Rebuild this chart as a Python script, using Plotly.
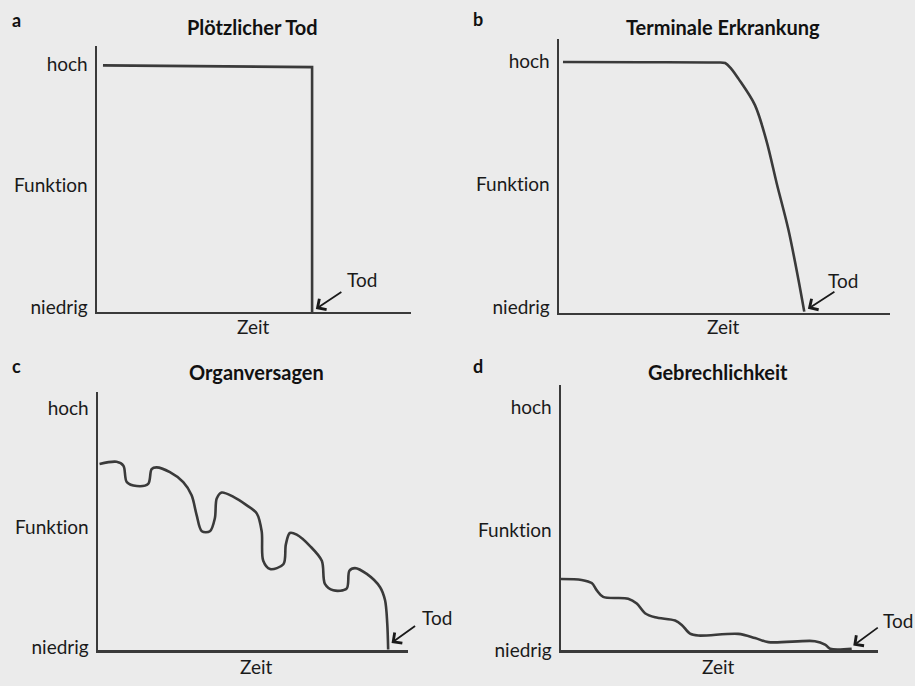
import plotly.graph_objects as go

W, H = 915, 686
BG = "#ebebeb"
INK = "#3a3a3a"
FONT = "Lato"

# ---------------- data ----------------
panel_letters = ["a", "b", "c", "d"]
panel_titles = ["Plötzlicher Tod", "Terminale Erkrankung", "Organversagen", "Gebrechlichkeit"]
y_tick_labels = ["niedrig", "Funktion", "hoch"]
x_axis_label = "Zeit"
death_label = "Tod"

# tick positions of the function labels (0 = niedrig, 100 = hoch)
y_tick_vals = [[1.8, 51.2, 100], [2.3, 51.2, 100], [1.2, 50.8, 100], [0.0, 49.4, 100]]

# a: Plötzlicher Tod
a_time = [1.9, 68.5, 68.5]
a_func = [99.4, 98.7, 0.0]

# b: Terminale Erkrankung
b_time = [1.2, 25.0, 47.0, 50.2, 52.0, 54.2, 59.2, 62.7, 65.8, 69.3, 72.3, 74.1]
b_func = [99.6, 99.5, 99.4, 99.2, 97.0, 93.0, 82.5, 68.2, 51.3, 33.1, 13.5, 0.5]

# c: Organversagen
c_time = [0.5, 6.0, 8.2, 9.3, 12.5, 16.2, 17.3, 18.9, 23.2, 27.5, 30.2, 31.8, 33.5,
          36.1, 37.7, 38.3, 39.9, 43.7, 47.9, 51.2, 52.8, 53.3, 55.5, 59.8, 60.6,
          61.9, 64.1, 68.4, 72.2, 73.2, 75.9, 80.2, 81.1, 82.9, 86.7, 91.0, 92.6,
          93.3, 93.6]
c_func = [77.0, 77.9, 76.3, 69.5, 67.9, 68.8, 74.9, 75.6, 73.6, 69.5, 64.1, 56.0, 49.2,
          49.2, 54.6, 62.7, 65.2, 63.4, 60.0, 56.6, 49.2, 37.0, 33.6, 35.6, 43.8,
          48.5, 47.8, 43.1, 37.0, 27.5, 24.8, 25.5, 32.9, 34.0, 31.6, 26.1, 20.7,
          11.3, 0.4]

# d: Gebrechlichkeit
d_time = [0.0, 6.5, 9.7, 11.3, 13.3, 21.2, 23.9, 26.5, 29.7, 36.0, 38.1, 40.7, 43.3,
          55.9, 61.2, 65.4, 80.1, 83.3, 84.9, 91.7]
d_func = [29.4, 29.0, 27.7, 24.7, 22.0, 21.3, 19.3, 15.3, 13.6, 12.3, 10.5, 6.9, 6.1,
          6.8, 5.1, 3.4, 3.8, 2.4, 0.7, 0.7]

# point of death (arrow target)
death_time = [69.7, 75.2, 94.7, 92.2]
death_func = [1.2, 1.6, 3.1, 2.0]

curves_time = [a_time, b_time, c_time, d_time]
curves_func = [a_func, b_func, c_func, d_func]
curve_shapes = ["linear", "spline", "spline", "spline"]

# ---------------- layout (pixel geometry) ----------------
dom_px = [  # x0, x1, y_top, y_bottom
    (97, 411, 47, 317),
    (559, 890, 40, 318),
    (98, 408, 398, 661),
    (561, 878, 391, 661),
]
y_top_val = [107.1, 108.6, 106.9, 109.3]
title_px = [(252, 27), (723, 27), (256, 378), (718, 378)]
letter_px = [(16, 20), (478, 19), (16, 372), (478, 372)]
zeit_px = [(253, 332), (723, 332), (256, 677), (718, 677)]
tod_shift = [(46, 29), (35, 28), (45, 25), (45, 25)]
arrow_off = [(27, -18), (28, -18), (25, -18), (26, -19)]


def px(x):
    return x / W


def py(y):
    return 1 - y / H


fig = go.Figure()
annotations = []
layout = dict(
    width=W, height=H,
    margin=dict(l=0, r=0, t=0, b=0),
    paper_bgcolor=BG, plot_bgcolor=BG,
    showlegend=False,
    font=dict(family=FONT, size=19, color="#1a1a1a"),
)

for i in range(4):
    n = "" if i == 0 else str(i + 1)
    xa, ya = "x" + n, "y" + n
    x0, x1, yt, yb = dom_px[i]
    layout["xaxis" + n] = dict(
        domain=[px(x0), px(x1)], range=[0, 100], anchor=ya,
        showline=True, linecolor=INK, linewidth=2.5,
        showgrid=False, zeroline=False, showticklabels=False, ticks="",
        fixedrange=True,
    )
    layout["yaxis" + n] = dict(
        domain=[py(yb), py(yt)], range=[0, y_top_val[i]], anchor=xa,
        showline=True, linecolor=INK, linewidth=2.5,
        showgrid=False, zeroline=False, ticks="",
        tickvals=y_tick_vals[i], ticktext=y_tick_labels,
        tickfont=dict(family=FONT, size=19, color="#1a1a1a"),
        ticklabelstandoff=3,
        fixedrange=True,
    )
    fig.add_trace(go.Scatter(
        x=curves_time[i], y=curves_func[i], mode="lines",
        line=dict(color=INK, width=2.6, shape=curve_shapes[i], smoothing=0.9),
        xaxis=xa, yaxis=ya, hoverinfo="skip",
    ))
    # title
    annotations.append(dict(
        text="<b>" + panel_titles[i] + "</b>", xref="paper", yref="paper",
        x=px(title_px[i][0]), y=py(title_px[i][1]), xanchor="center", yanchor="middle",
        showarrow=False, font=dict(family=FONT, size=20, color="#111111"),
    ))
    # panel letter
    annotations.append(dict(
        text="<b>" + panel_letters[i] + "</b>", xref="paper", yref="paper",
        x=px(letter_px[i][0]), y=py(letter_px[i][1]), xanchor="center", yanchor="middle",
        showarrow=False, font=dict(family=FONT, size=18, color="#111111"),
    ))
    # x-axis label
    annotations.append(dict(
        text=x_axis_label, xref="paper", yref="paper",
        x=px(zeit_px[i][0]), y=py(zeit_px[i][1]), xanchor="center", yanchor="middle",
        showarrow=False, font=dict(family=FONT, size=19, color="#1a1a1a"),
    ))
    # death arrow
    annotations.append(dict(
        text="", x=death_time[i], y=death_func[i], xref=xa, yref=ya,
        showarrow=True, ax=arrow_off[i][0], ay=arrow_off[i][1],
        arrowhead=4, arrowsize=1.4, arrowwidth=1.8, arrowcolor="#1a1a1a",
    ))
    # death label
    annotations.append(dict(
        text=death_label, x=death_time[i], y=death_func[i], xref=xa, yref=ya,
        xshift=tod_shift[i][0], yshift=tod_shift[i][1], showarrow=False,
        xanchor="center", yanchor="middle",
        font=dict(family=FONT, size=19, color="#1a1a1a"),
    ))

layout["annotations"] = annotations
fig.update_layout(**layout)

post_js = (
    "document.body.style.margin='0';"
    "document.body.style.background='%s';"
    "var s=document.createElement('style');"
    "s.textContent='text{font-variant-ligatures:none;font-feature-settings:\"liga\" 0;}';"
    "document.head.appendChild(s);"
) % BG

fig.write_html(
    "out.html",
    config={"displayModeBar": False, "staticPlot": True},
    post_script=post_js,
)
